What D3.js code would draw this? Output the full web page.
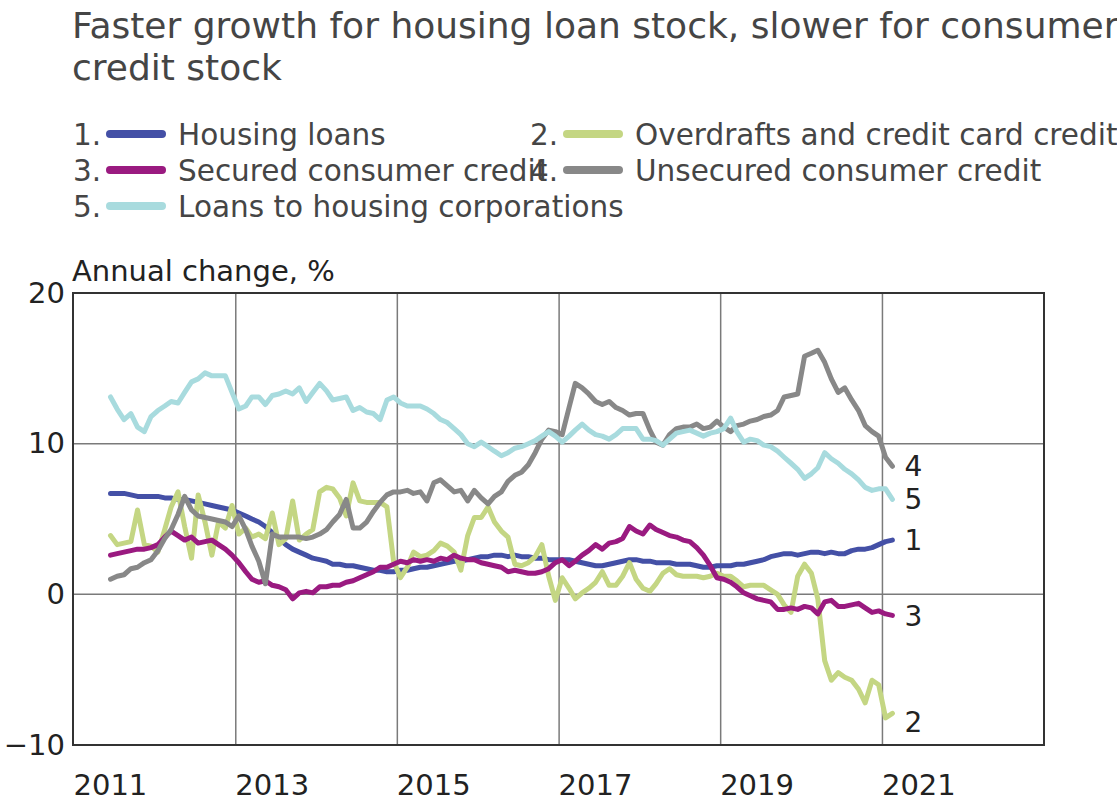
<!DOCTYPE html>
<html>
<head>
<meta charset="utf-8">
<script src="https://cdn.jsdelivr.net/npm/d3@7"></script>
<style>
  html, body { margin: 0; padding: 0; background: #ffffff; }
  svg { display: block; }
  text { font-family: "DejaVu Sans", sans-serif; }
</style>
</head>
<body>
<svg id="chart" width="1117" height="803"></svg>
<script>
// ---------------- DATA ----------------
const titleLines = ["Faster growth for housing loan stock, slower for consumer", "credit stock"];
const yAxisTitle = "Annual change, %";
const startYear = 2011, startMonth = 6;   // first observation: June 2011, monthly
const yTicks = [20, 10, 0, -10];
const xTickYears = [2011, 2013, 2015, 2017, 2019, 2021];
const seriesNames = ["Housing loans", "Overdrafts and credit card credit", "Secured consumer credit", "Unsecured consumer credit", "Loans to housing corporations"];
const seriesNumbers = ["1", "2", "3", "4", "5"];

const housingLoans = [
  6.7,6.7,6.7,6.6,6.5,6.5,6.5,6.5,6.4,6.4,6.3,6.3,6.2,6.1,6.0,5.9,5.8,5.7,5.6,5.4,
  5.2,5.0,4.8,4.5,4.1,3.7,3.3,3.0,2.8,2.6,2.4,2.3,2.2,2.0,2.0,1.9,1.9,1.8,1.7,1.6,
  1.6,1.5,1.5,1.6,1.6,1.7,1.8,1.8,1.9,2.0,2.1,2.2,2.2,2.3,2.4,2.5,2.5,2.6,2.6,2.5,
  2.6,2.5,2.5,2.4,2.4,2.3,2.3,2.3,2.3,2.2,2.1,2.0,1.9,1.9,2.0,2.1,2.2,2.3,2.3,2.2,
  2.2,2.1,2.1,2.1,2.0,2.0,2.0,1.9,1.8,1.8,1.9,1.9,1.9,2.0,2.0,2.1,2.2,2.3,2.5,2.6,
  2.7,2.7,2.6,2.7,2.8,2.8,2.7,2.8,2.7,2.7,2.9,3.0,3.0,3.1,3.3,3.5,3.6
];
const overdrafts = [
  3.9,3.3,3.4,3.5,5.6,3.3,3.2,2.8,4.3,5.8,6.8,4.5,2.4,6.6,4.8,2.6,4.8,4.4,5.9,4.0,
  4.4,3.8,4.0,3.7,5.4,3.3,3.7,6.2,3.6,4.0,4.3,6.8,7.1,7.0,6.4,5.2,7.4,6.2,6.1,6.1,
  6.1,5.8,2.2,1.1,1.8,2.8,2.5,2.6,2.9,3.4,3.2,2.8,1.6,3.9,5.1,5.1,5.8,4.8,4.2,3.8,
  2.0,1.9,2.1,2.5,3.3,1.2,-0.4,1.1,0.4,-0.3,0.1,0.4,0.8,1.5,0.6,0.6,1.2,2.1,1.0,0.4,
  0.2,0.7,1.4,1.7,1.3,1.2,1.2,1.2,1.1,1.2,1.4,1.2,1.2,0.9,0.5,0.6,0.6,0.6,0.3,0.0,
  -0.7,-1.2,1.2,2.0,1.4,-0.3,-4.4,-5.7,-5.2,-5.5,-5.7,-6.3,-7.2,-5.7,-6.0,-8.2,-7.9
];
const securedConsumer = [
  2.6,2.7,2.8,2.9,3.0,3.0,3.1,3.3,3.8,4.2,3.9,3.6,3.8,3.4,3.5,3.6,3.3,3.0,2.6,2.1,
  1.5,1.0,0.8,0.9,0.6,0.5,0.3,-0.3,0.1,0.2,0.1,0.5,0.5,0.6,0.6,0.8,0.9,1.1,1.3,1.5,
  1.8,1.8,2.0,2.2,2.1,2.3,2.2,2.3,2.2,2.4,2.3,2.6,2.4,2.3,2.3,2.1,2.0,1.9,1.8,1.5,
  1.6,1.5,1.4,1.4,1.5,1.7,2.1,2.3,1.9,2.2,2.6,2.9,3.3,3.0,3.4,3.5,3.7,4.5,4.2,4.0,
  4.6,4.3,4.1,3.9,3.8,3.6,3.5,3.1,2.6,1.9,1.1,1.0,0.8,0.5,0.1,-0.1,-0.3,-0.4,-0.5,-1.0,
  -1.0,-0.9,-1.0,-0.8,-0.9,-1.3,-0.5,-0.4,-0.8,-0.8,-0.7,-0.6,-0.9,-1.2,-1.1,-1.3,-1.4
];
const unsecuredConsumer = [
  1.0,1.2,1.3,1.7,1.8,2.1,2.3,2.9,3.7,4.3,5.3,6.5,5.6,5.2,5.1,5.0,4.9,4.8,4.5,5.2,
  4.3,3.2,2.2,0.7,4.0,3.8,3.8,3.8,3.8,3.7,3.8,4.0,4.3,4.8,5.3,6.3,4.4,4.4,4.8,5.5,
  6.1,6.6,6.8,6.8,6.9,6.7,6.8,6.2,7.4,7.6,7.2,6.8,6.9,6.2,6.9,6.4,6.0,6.5,6.8,7.5,
  7.9,8.1,8.6,9.4,10.3,10.9,10.8,10.6,12.4,14.0,13.7,13.3,12.8,12.6,12.8,12.4,12.2,11.9,12.0,12.0,
  10.9,10.1,9.9,10.6,11.0,11.1,11.1,11.3,11.0,11.1,11.5,11.1,10.8,11.2,11.3,11.5,11.6,11.8,11.9,12.2,
  13.1,13.2,13.3,15.8,16.0,16.2,15.4,14.3,13.4,13.7,12.9,12.2,11.2,10.8,10.5,9.1,8.5
];
const housingCorporations = [
  13.1,12.3,11.6,12.0,11.1,10.8,11.8,12.2,12.5,12.8,12.7,13.4,14.1,14.3,14.7,14.5,14.5,14.5,13.4,12.3,
  12.5,13.1,13.1,12.6,13.2,13.3,13.5,13.3,13.7,12.8,13.4,14.0,13.5,12.9,13.0,13.1,12.2,12.4,12.1,12.0,
  11.6,12.9,13.1,12.7,12.5,12.5,12.5,12.3,12.0,11.6,11.4,11.0,10.6,10.0,9.8,10.1,9.8,9.5,9.2,9.4,
  9.7,9.8,10.0,10.2,10.5,10.8,10.5,10.1,10.5,10.9,11.3,10.9,10.6,10.5,10.3,10.6,11.0,11.0,11.0,10.3,
  10.3,10.2,9.9,10.3,10.7,10.8,10.9,10.7,10.5,10.7,10.8,11.0,11.7,10.8,10.1,10.3,10.2,9.9,9.8,9.5,
  9.1,8.7,8.3,7.7,8.0,8.4,9.4,9.0,8.7,8.3,8.0,7.6,7.1,6.9,7.0,7.0,6.3
];

const seriesValues = [housingLoans, overdrafts, securedConsumer, unsecuredConsumer, housingCorporations];
const seriesColors = ["#4450a6", "#c4d683", "#9a1a80", "#888888", "#a8dbde"];

// ---------------- LAYOUT ----------------
const svg = d3.select("#chart");
const plot = { left: 73, right: 1044, top: 293, bottom: 745 };

const x = d3.scaleTime()
  .domain([new Date(2011, 0, 1), new Date(2023, 0, 1)])
  .range([plot.left + 1, plot.right]);
const y = d3.scaleLinear().domain([-10, 20]).range([plot.bottom, plot.top]);

const dateAt = i => new Date(startYear, startMonth - 1 + i, 15);

// Title
svg.append("g").selectAll("text").data(titleLines).join("text")
  .attr("x", 72).attr("y", (d, i) => 38 + i * 42)
  .attr("font-size", 36).attr("fill", "#454545")
  .text(d => d);

// Legend
const legendPos = [
  { x: 73, y: 134 }, { x: 530, y: 134 },
  { x: 73, y: 170 }, { x: 530, y: 170 },
  { x: 73, y: 206 }
];
const lg = svg.append("g");
seriesNames.forEach((name, i) => {
  const p = legendPos[i];
  const g = lg.append("g").attr("transform", `translate(${p.x},${p.y})`);
  g.append("line").attr("x1", 37).attr("x2", 89).attr("y1", 0).attr("y2", 0)
    .attr("stroke", seriesColors[i]).attr("stroke-width", 8).attr("stroke-linecap", "round");
  g.append("text").attr("x", 105).attr("y", 0).attr("dy", "0.36em")
    .attr("font-size", 29.5).attr("fill", "#454545").text(name);
  g.append("text").attr("x", 0).attr("y", 0).attr("dy", "0.36em")
    .attr("font-size", 29.5).attr("fill", "#454545").text(seriesNumbers[i] + ".");
});

// Axis title
svg.append("text").attr("x", 72).attr("y", 281)
  .attr("font-size", 29).attr("fill", "#222").text(yAxisTitle);

// Gridlines
const grid = svg.append("g");
grid.selectAll("line.v").data(xTickYears.filter(yr => yr > 2011)).join("line")
  .attr("x1", d => x(new Date(d, 0, 1))).attr("x2", d => x(new Date(d, 0, 1)))
  .attr("y1", plot.top).attr("y2", plot.bottom)
  .attr("stroke", "#7a7a7a").attr("stroke-width", 1.5);
grid.selectAll("line.h").data(yTicks.filter(v => v > -10 && v < 20)).join("line")
  .attr("x1", plot.left).attr("x2", plot.right)
  .attr("y1", d => y(d)).attr("y2", d => y(d))
  .attr("stroke", "#7a7a7a").attr("stroke-width", 1.5);

// Y axis labels
const yAxis = d3.axisLeft(y).tickValues(yTicks).tickSize(0).tickPadding(8)
  .tickFormat(d => d < 0 ? "\u2212" + Math.abs(d) : d);
const yg = svg.append("g").attr("transform", `translate(${plot.left},0)`).call(yAxis);
yg.select(".domain").remove();
yg.selectAll("text").attr("font-size", 29).attr("fill", "#222").attr("font-family", "DejaVu Sans");

// X axis labels
const xAxis = d3.axisBottom(x).tickValues(xTickYears.map(yr => new Date(yr, 0, 1)))
  .tickSize(0).tickPadding(0).tickFormat(d3.timeFormat("%Y"));
const xg = svg.append("g").attr("transform", `translate(0,${plot.bottom})`).call(xAxis);
xg.select(".domain").remove();
xg.selectAll("text").attr("font-size", 29).attr("fill", "#222").attr("font-family", "DejaVu Sans")
  .attr("text-anchor", "start").attr("dx", -1).attr("y", 50).attr("dy", 0);

// Lines
const line = d3.line().x((d, i) => x(dateAt(i))).y(d => y(d));
const lines = svg.append("g");
seriesValues.forEach((vals, k) => {
  lines.append("path").datum(vals)
    .attr("d", line)
    .attr("fill", "none")
    .attr("stroke", seriesColors[k])
    .attr("stroke-width", 5)
    .attr("stroke-linejoin", "round")
    .attr("stroke-linecap", "round");
});

// End labels
const labelNudge = [0, -9, 0, 0, 0];
const endG = svg.append("g");
seriesValues.forEach((vals, k) => {
  const n = vals.length;
  endG.append("text")
    .attr("x", x(dateAt(n - 1)) + 12)
    .attr("y", y(vals[n - 1]) - labelNudge[k])
    .attr("dy", "0.36em")
    .attr("font-size", 28).attr("fill", "#222")
    .text(seriesNumbers[k]);
});

// Frame
svg.append("rect")
  .attr("x", plot.left).attr("y", plot.top)
  .attr("width", plot.right - plot.left).attr("height", plot.bottom - plot.top)
  .attr("fill", "none").attr("stroke", "#333").attr("stroke-width", 2);
</script>
</body>
</html>
